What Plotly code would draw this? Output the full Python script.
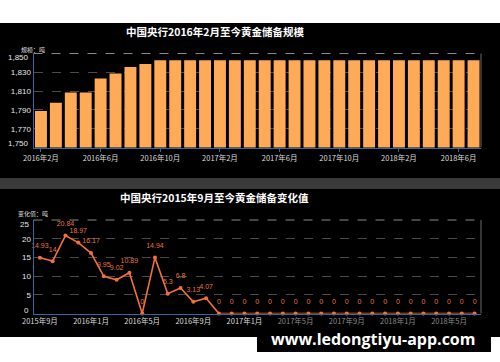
import plotly.graph_objects as go

W, H = 500, 362

# ---------------- data ----------------
reserve_months = [
    "2016年2月", "2016年3月", "2016年4月", "2016年5月", "2016年6月", "2016年7月",
    "2016年8月", "2016年9月", "2016年10月", "2016年11月", "2016年12月", "2017年1月",
    "2017年2月", "2017年3月", "2017年4月", "2017年5月", "2017年6月", "2017年7月",
    "2017年8月", "2017年9月", "2017年10月", "2017年11月", "2017年12月", "2018年1月",
    "2018年2月", "2018年3月", "2018年4月", "2018年5月", "2018年6月", "2018年7月",
]
reserve_tons = [
    1788.7, 1797.7, 1808.6, 1808.6, 1823.5, 1828.8,
    1835.6, 1838.8, 1842.8, 1842.8, 1842.8, 1842.8,
    1842.8, 1842.8, 1842.8, 1842.8, 1842.8, 1842.8,
    1842.8, 1842.8, 1842.8, 1842.8, 1842.8, 1842.8,
    1842.8, 1842.8, 1842.8, 1842.8, 1842.8, 1842.8,
]
reserve_ticks = ["2016年2月", "2016年6月", "2016年10月", "2017年2月",
                 "2017年6月", "2017年10月", "2018年2月", "2018年6月"]
reserve_yticks = [1750, 1770, 1790, 1810, 1830, 1850]

change_months = [
    "2015年9月", "2015年10月", "2015年11月", "2015年12月", "2016年1月", "2016年2月",
    "2016年3月", "2016年4月", "2016年5月", "2016年6月", "2016年7月", "2016年8月",
    "2016年9月", "2016年10月", "2016年11月", "2016年12月", "2017年1月", "2017年2月",
    "2017年3月", "2017年4月", "2017年5月", "2017年6月", "2017年7月", "2017年8月",
    "2017年9月", "2017年10月", "2017年11月", "2017年12月", "2018年1月", "2018年2月",
    "2018年3月", "2018年4月", "2018年5月", "2018年6月", "2018年7月",
]
change_tons = [
    14.93, 14, 20.84, 18.97, 16.17, 9.95,
    9.02, 10.89, 0, 14.94, 5.3, 6.8,
    3.13, 4.07, 0, 0, 0, 0,
    0, 0, 0, 0, 0, 0,
    0, 0, 0, 0, 0, 0,
    0, 0, 0, 0, 0,
]
change_ticks = ["2015年9月", "2016年1月", "2016年5月", "2016年9月", "2017年1月",
                "2017年5月", "2017年9月", "2018年1月", "2018年5月"]
change_dim_ticks = ["2017年5月", "2017年9月", "2018年1月", "2018年5月"]
change_yticks = [0, 5, 10, 15, 20, 25]

# ---------------- styling ----------------
FONT = "Liberation Sans, Arial, Noto Sans CJK SC, sans-serif"
CJK = "Noto Sans CJK SC, Liberation Sans, sans-serif"
BAR_COLOR = "#FFAA56"
LINE_COLOR = "#F2703A"
AXIS_BLUE = "#2E6BA6"
GRID = "#4a4a4a"
TICK_COLOR = "#e6e6e6"


def px(x):
    return x / W


def py(y):
    return 1 - y / H


fig = go.Figure()

fig.add_trace(go.Bar(
    x=reserve_months, y=reserve_tons,
    marker=dict(color=BAR_COLOR, line=dict(width=0)),
    xaxis="x", yaxis="y", showlegend=False,
))

fig.add_trace(go.Scatter(
    x=change_months, y=change_tons,
    mode="lines+markers",
    line=dict(color=LINE_COLOR, width=1.6),
    marker=dict(color=LINE_COLOR, size=4),
    cliponaxis=False,
    xaxis="x2", yaxis="y2", showlegend=False,
))
# value labels (an invisible, larger marker lifts the text above the point)
fig.add_trace(go.Scatter(
    x=change_months, y=change_tons,
    mode="markers+text",
    marker=dict(color="rgba(0,0,0,0)", size=11),
    text=[f"{v:g}" for v in change_tons],
    textposition="top center",
    textfont=dict(family=FONT, size=7, color="#E8763F"),
    cliponaxis=False, hoverinfo="skip",
    xaxis="x2", yaxis="y2", showlegend=False,
))


def ytext(vals, fmt):
    # edge labels are drawn separately (shifted inward, as in the reference)
    return ["" if i in (0, len(vals) - 1) else fmt(v) for i, v in enumerate(vals)]


ax_common = dict(
    showline=True, linecolor=AXIS_BLUE, linewidth=1, automargin=False,
    tickfont=dict(family=CJK, size=7.5, color="#dddddd"),
    zeroline=False,
)

fig.update_layout(
    width=W, height=H,
    margin=dict(l=0, r=0, t=0, b=0, autoexpand=False),
    paper_bgcolor="white",
    plot_bgcolor="rgba(0,0,0,0)",
    bargap=0.2,
    xaxis=dict(
        domain=[px(33.5), px(481)], anchor="y", type="category",
        range=[-0.5, len(reserve_months) - 0.5],
        tickmode="array", tickvals=reserve_ticks, ticktext=reserve_ticks,
        ticks="outside", ticklen=3, tickcolor=AXIS_BLUE, showgrid=False,
        **ax_common,
    ),
    yaxis=dict(
        domain=[py(147.5), py(53.5)], anchor="x", automargin=False,
        range=[1750, 1850], tickmode="array", tickvals=reserve_yticks,
        ticktext=ytext(reserve_yticks, lambda v: f"{v:,}"),
        ticks="", showgrid=True, gridcolor=GRID, griddash="dash", gridwidth=1,
        showline=True, linecolor=AXIS_BLUE, linewidth=1, zeroline=False,
        tickfont=dict(family=FONT, size=8, color=TICK_COLOR),
    ),
    xaxis2=dict(
        domain=[px(33.5), px(481)], anchor="y2", type="category",
        range=[-0.5, len(change_months) - 0.5],
        tickmode="array", tickvals=change_ticks,
        ticktext=[(f"<span style='color:#8a8a8a'>{t}</span>" if t in change_dim_ticks else t)
                  for t in change_ticks],
        ticks="", showgrid=False,
        **ax_common,
    ),
    yaxis2=dict(
        domain=[py(313.5), py(220)], anchor="x2", automargin=False,
        range=[0, 25], tickmode="array", tickvals=change_yticks,
        ticktext=ytext(change_yticks, lambda v: f"{v}"),
        ticks="", showgrid=True, gridcolor=GRID, griddash="dash", gridwidth=1,
        showline=True, linecolor=AXIS_BLUE, linewidth=1, zeroline=False,
        tickfont=dict(family=FONT, size=8, color=TICK_COLOR),
    ),
)

shapes = [
    dict(type="rect", xref="paper", yref="paper", x0=0, x1=1, y0=py(337), y1=py(23),
         fillcolor="black", line=dict(width=0), layer="below"),
    dict(type="rect", xref="paper", yref="paper", x0=0, x1=1, y0=py(189), y1=py(178),
         fillcolor="#3a3a3a", line=dict(width=0), layer="below"),
    dict(type="rect", xref="paper", yref="paper", x0=px(257), x1=px(491), y0=py(352), y1=py(330),
         fillcolor="black", line=dict(width=0), layer="below"),
]
for xd, yd in (("x domain", "y domain"), ("x2 domain", "y2 domain")):
    shapes.append(dict(type="line", xref=xd, yref=yd, x0=0, x1=1, y0=1, y1=1,
                       line=dict(color="#8a8a8a", width=1, dash="dash")))
    shapes.append(dict(type="line", xref=xd, yref=yd, x0=1, x1=1, y0=0, y1=1,
                       line=dict(color="#6a6a6a", width=1)))
fig.update_layout(shapes=shapes)

annotations = [
    dict(text="<b>中国央行2016年2月至今黄金储备规模</b>", x=px(215), y=py(31),
         xref="paper", yref="paper",
         font=dict(family=CJK, size=10.5, color="white")),
    dict(text="<b>中国央行2015年9月至今黄金储备变化值</b>", x=px(214), y=py(197),
         xref="paper", yref="paper",
         font=dict(family=CJK, size=10.5, color="white")),
    dict(text="规模：吨", x=px(33), y=py(49), xref="paper", yref="paper",
         font=dict(family=CJK, size=6, color="#dddddd")),
    dict(text="变化值：吨", x=px(33), y=py(213), xref="paper", yref="paper",
         font=dict(family=CJK, size=6, color="#dddddd")),
    dict(text="<b>www.ledongtiyu-app.com</b>", x=px(373), y=py(339),
         xref="paper", yref="paper",
         font=dict(family="Open Sans, sans-serif", size=16, color="white")),
]
edge_labels = [
    ("y", reserve_yticks[-1], f"{reserve_yticks[-1]:,}", -4.5),
    ("y", reserve_yticks[0], f"{reserve_yticks[0]:,}", 4.5),
    ("y2", change_yticks[-1], f"{change_yticks[-1]}", -4.5),
    ("y2", change_yticks[0], f"{change_yticks[0]}", 3),
]
for yref, val, txt, shift in edge_labels:
    annotations.append(dict(text=txt, x=px(31), y=val, xref="paper", yref=yref,
                            yshift=shift, xanchor="right",
                            font=dict(family=FONT, size=8, color=TICK_COLOR)))
for a in annotations:
    a.setdefault("xanchor", "center")
    a.update(showarrow=False, yanchor="middle")
fig.update_layout(annotations=annotations)

fig.write_html(
    "out.html",
    config={"displayModeBar": False},
    post_script="document.body.style.margin='0px';document.body.style.overflow='hidden';",
)
